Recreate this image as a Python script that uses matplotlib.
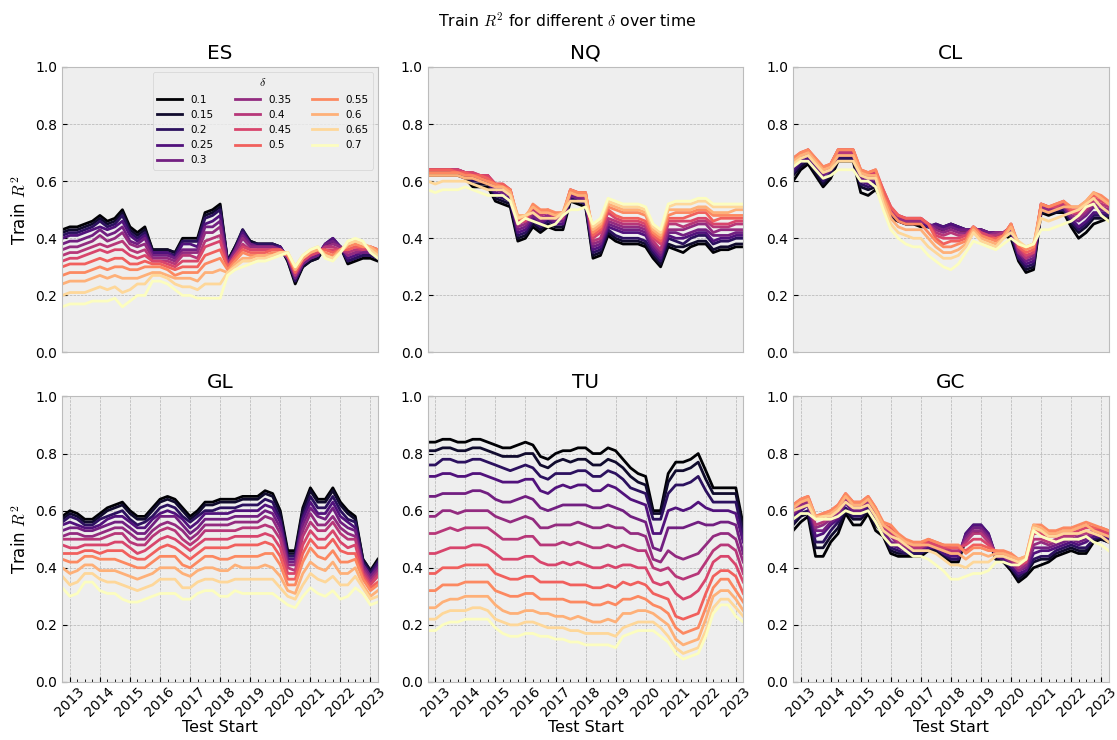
import numpy as np
import pandas as pd
import matplotlib
matplotlib.use("Agg")
import matplotlib.pyplot as plt
import matplotlib.dates as mdates

plt.style.use("bmh")

# ============================================================
# DATA: train R^2 (x100), one row per quarter, one column per delta
# ============================================================

deltas = [0.1, 0.15, 0.2, 0.25, 0.3, 0.35, 0.4, 0.45, 0.5, 0.55, 0.6, 0.65, 0.7]

test_start = pd.date_range("2012-10-01", periods=43, freq="QS")

markets = ["ES", "NQ", "CL", "GL", "TU", "GC"]

es_r2 = [
    [43, 42, 41, 40, 38, 36, 34, 32, 30, 27, 24, 20, 16],
    [44, 43, 42, 41, 39, 37, 35, 33, 31, 28, 25, 21, 17],
    [44, 43, 42, 41, 39, 37, 35, 33, 31, 28, 25, 21, 17],
    [45, 44, 43, 42, 40, 38, 36, 34, 31, 28, 25, 21, 17],
    [46, 45, 44, 43, 41, 39, 37, 35, 32, 29, 26, 22, 18],
    [48, 47, 46, 44, 43, 41, 38, 36, 33, 30, 27, 23, 18],
    [46, 45, 44, 43, 41, 39, 37, 35, 32, 29, 26, 22, 18],
    [47, 46, 45, 44, 42, 40, 38, 36, 33, 30, 27, 23, 19],
    [50, 49, 48, 46, 44, 42, 39, 36, 33, 30, 26, 21, 16],
    [44, 43, 42, 41, 39, 38, 36, 34, 31, 29, 26, 22, 18],
    [42, 41, 40, 39, 38, 37, 35, 33, 31, 29, 26, 24, 20],
    [44, 43, 42, 41, 40, 38, 36, 34, 32, 30, 27, 24, 20],
    [36, 36, 35, 35, 34, 33, 32, 32, 31, 30, 28, 27, 25],
    [36, 36, 35, 35, 34, 33, 32, 32, 31, 30, 28, 27, 25],
    [36, 36, 35, 35, 34, 33, 32, 31, 30, 29, 27, 26, 24],
    [35, 35, 34, 33, 33, 32, 31, 30, 29, 27, 26, 24, 22],
    [40, 39, 39, 38, 36, 35, 34, 32, 30, 28, 26, 23, 20],
    [40, 39, 39, 38, 36, 35, 34, 32, 30, 28, 26, 23, 20],
    [40, 39, 39, 37, 36, 35, 33, 32, 30, 28, 25, 22, 19],
    [49, 48, 47, 45, 44, 42, 39, 37, 34, 31, 28, 24, 19],
    [50, 49, 48, 46, 44, 42, 40, 38, 35, 32, 28, 24, 19],
    [52, 51, 50, 48, 46, 44, 41, 39, 36, 33, 29, 24, 19],
    [32, 32, 32, 31, 31, 31, 30, 30, 30, 29, 28, 28, 27],
    [37, 37, 36, 36, 36, 35, 34, 34, 33, 32, 31, 30, 29],
    [42, 43, 43, 42, 41, 40, 38, 37, 36, 35, 33, 32, 30],
    [39, 39, 38, 38, 38, 37, 36, 36, 35, 34, 33, 32, 31],
    [38, 38, 38, 37, 37, 37, 36, 36, 35, 34, 34, 33, 32],
    [38, 38, 38, 37, 37, 37, 36, 36, 35, 34, 34, 33, 32],
    [38, 38, 38, 37, 37, 37, 36, 36, 36, 35, 34, 34, 33],
    [37, 37, 37, 37, 36, 36, 36, 36, 36, 35, 35, 35, 34],
    [32, 32, 33, 33, 33, 33, 34, 34, 34, 34, 35, 35, 35],
    [24, 25, 25, 26, 26, 27, 27, 28, 28, 29, 29, 30, 30],
    [30, 30, 31, 31, 31, 32, 32, 32, 33, 33, 33, 34, 34],
    [32, 32, 33, 33, 33, 34, 34, 34, 35, 35, 35, 36, 36],
    [33, 33, 34, 34, 34, 35, 35, 35, 36, 36, 36, 37, 37],
    [37, 37, 38, 38, 38, 37, 37, 36, 36, 35, 34, 34, 33],
    [39, 39, 40, 40, 39, 38, 37, 36, 35, 34, 33, 33, 32],
    [37, 37, 37, 37, 37, 37, 36, 36, 36, 36, 36, 35, 35],
    [31, 32, 32, 33, 34, 34, 35, 36, 36, 37, 38, 38, 39],
    [32, 33, 33, 34, 35, 35, 36, 37, 37, 38, 39, 39, 40],
    [33, 34, 34, 35, 35, 36, 36, 36, 37, 37, 38, 38, 39],
    [33, 34, 34, 35, 35, 36, 36, 37, 37, 37, 37, 36, 35],
    [32, 33, 33, 34, 34, 35, 35, 36, 36, 36, 35, 34, 33],
]

nq_r2 = [
    [62, 63, 63, 64, 64, 64, 64, 64, 64, 63, 62, 60, 57],
    [62, 63, 63, 64, 64, 64, 64, 64, 64, 63, 62, 59, 56],
    [62, 63, 63, 64, 64, 64, 64, 64, 64, 63, 62, 60, 57],
    [62, 63, 63, 64, 64, 64, 64, 64, 64, 63, 62, 60, 57],
    [62, 63, 63, 63, 64, 64, 64, 64, 63, 63, 62, 60, 57],
    [61, 62, 62, 63, 63, 63, 63, 63, 63, 62, 61, 60, 58],
    [58, 59, 60, 61, 62, 62, 63, 63, 62, 62, 61, 59, 57],
    [58, 59, 60, 61, 61, 62, 62, 62, 62, 61, 60, 58, 56],
    [58, 59, 60, 60, 61, 62, 62, 62, 61, 60, 59, 57, 55],
    [53, 54, 55, 56, 57, 58, 59, 59, 59, 59, 58, 57, 55],
    [52, 53, 54, 55, 56, 57, 58, 59, 59, 58, 58, 57, 55],
    [51, 52, 53, 54, 55, 56, 57, 57, 57, 57, 56, 55, 53],
    [39, 40, 41, 42, 43, 44, 45, 46, 47, 47, 48, 47, 45],
    [40, 41, 42, 43, 44, 45, 46, 46, 47, 47, 48, 48, 47],
    [44, 45, 46, 47, 48, 49, 50, 51, 51, 52, 51, 49, 46],
    [42, 43, 44, 45, 46, 47, 48, 49, 49, 50, 49, 47, 45],
    [44, 45, 46, 47, 47, 48, 49, 49, 50, 50, 49, 47, 44],
    [43, 44, 45, 45, 46, 47, 47, 48, 48, 49, 48, 47, 45],
    [43, 44, 45, 45, 46, 47, 47, 48, 48, 49, 49, 49, 48],
    [53, 54, 54, 55, 55, 56, 56, 57, 57, 57, 56, 53, 50],
    [52, 53, 53, 54, 54, 55, 55, 56, 56, 56, 55, 53, 50],
    [51, 52, 52, 53, 54, 54, 55, 56, 56, 56, 55, 53, 51],
    [33, 34, 35, 36, 37, 38, 39, 40, 41, 42, 43, 44, 45],
    [34, 35, 36, 37, 38, 39, 40, 42, 43, 44, 45, 46, 47],
    [41, 42, 43, 44, 45, 46, 47, 49, 50, 51, 52, 53, 54],
    [39, 40, 41, 43, 44, 45, 46, 47, 48, 50, 51, 52, 53],
    [38, 39, 40, 42, 43, 44, 45, 46, 47, 49, 50, 51, 52],
    [38, 39, 40, 42, 43, 44, 45, 46, 47, 49, 50, 51, 52],
    [38, 39, 40, 42, 43, 44, 45, 46, 47, 49, 50, 51, 52],
    [37, 38, 39, 41, 42, 43, 44, 45, 46, 48, 49, 50, 51],
    [33, 34, 35, 36, 37, 38, 39, 40, 41, 42, 43, 44, 45],
    [30, 31, 32, 33, 34, 35, 36, 38, 39, 40, 41, 42, 43],
    [37, 38, 40, 41, 42, 43, 45, 46, 47, 48, 50, 51, 52],
    [36, 37, 39, 40, 42, 43, 45, 46, 47, 49, 50, 52, 53],
    [35, 37, 38, 40, 41, 43, 44, 46, 47, 49, 50, 52, 53],
    [37, 38, 40, 41, 42, 44, 45, 46, 48, 49, 50, 52, 53],
    [38, 39, 41, 42, 43, 45, 46, 47, 49, 50, 51, 53, 54],
    [38, 39, 41, 42, 43, 45, 46, 47, 49, 50, 51, 53, 54],
    [35, 36, 38, 39, 41, 42, 44, 45, 46, 48, 49, 51, 52],
    [36, 37, 39, 40, 41, 43, 44, 45, 47, 48, 49, 51, 52],
    [36, 37, 39, 40, 41, 43, 44, 45, 47, 48, 49, 51, 52],
    [37, 38, 40, 41, 42, 43, 45, 46, 47, 48, 50, 51, 52],
    [37, 38, 40, 41, 42, 43, 45, 46, 47, 48, 50, 51, 52],
]

cl_r2 = [
    [60, 62, 63, 64, 65, 66, 67, 67, 68, 68, 67, 66, 65],
    [64, 65, 66, 67, 68, 68, 69, 69, 70, 70, 69, 68, 67],
    [66, 67, 68, 68, 69, 70, 70, 71, 71, 71, 70, 69, 67],
    [62, 63, 64, 65, 66, 66, 67, 67, 68, 68, 67, 66, 64],
    [58, 59, 60, 62, 62, 63, 64, 64, 65, 65, 64, 63, 61],
    [61, 62, 63, 64, 64, 65, 65, 66, 66, 66, 65, 64, 62],
    [67, 68, 68, 69, 69, 70, 70, 71, 71, 71, 69, 67, 64],
    [67, 68, 68, 69, 69, 70, 70, 71, 71, 71, 69, 67, 64],
    [67, 68, 68, 69, 69, 70, 70, 71, 71, 71, 69, 67, 64],
    [56, 58, 59, 60, 61, 62, 63, 63, 64, 64, 63, 62, 60],
    [55, 57, 58, 59, 60, 61, 62, 62, 63, 63, 62, 61, 60],
    [57, 58, 59, 60, 61, 62, 63, 63, 64, 64, 62, 61, 58],
    [53, 53, 54, 55, 55, 56, 56, 57, 57, 55, 54, 52, 50],
    [47, 47, 48, 49, 49, 50, 50, 51, 51, 49, 47, 45, 43],
    [46, 46, 47, 47, 47, 47, 48, 48, 48, 46, 44, 42, 40],
    [45, 45, 46, 46, 46, 46, 47, 47, 47, 45, 43, 41, 38],
    [45, 45, 46, 46, 46, 46, 47, 47, 47, 45, 43, 40, 37],
    [44, 45, 45, 46, 46, 46, 47, 47, 47, 45, 43, 40, 37],
    [44, 44, 44, 44, 45, 45, 45, 45, 45, 42, 40, 37, 34],
    [43, 44, 45, 45, 44, 43, 42, 41, 40, 39, 37, 35, 32],
    [43, 44, 44, 44, 43, 42, 41, 40, 38, 37, 35, 33, 30],
    [44, 45, 45, 45, 44, 43, 42, 40, 39, 37, 35, 33, 29],
    [43, 44, 44, 44, 43, 42, 41, 40, 39, 38, 36, 34, 31],
    [42, 43, 43, 43, 43, 42, 41, 41, 40, 39, 38, 37, 35],
    [42, 43, 43, 43, 43, 43, 44, 44, 44, 44, 43, 42, 39],
    [42, 43, 43, 43, 43, 42, 42, 42, 41, 41, 40, 39, 38],
    [41, 42, 42, 42, 42, 41, 41, 41, 40, 40, 39, 38, 37],
    [41, 42, 42, 42, 42, 42, 41, 40, 40, 39, 38, 37, 36],
    [41, 42, 42, 42, 42, 42, 42, 41, 41, 41, 40, 40, 38],
    [40, 41, 42, 43, 43, 44, 44, 45, 45, 45, 44, 42, 40],
    [32, 33, 33, 34, 35, 35, 36, 37, 37, 38, 38, 39, 38],
    [28, 29, 30, 31, 32, 33, 33, 34, 35, 36, 37, 37, 37],
    [29, 30, 31, 32, 33, 34, 35, 35, 36, 37, 38, 38, 38],
    [49, 49, 50, 50, 51, 51, 52, 52, 52, 52, 50, 47, 43],
    [48, 49, 49, 50, 50, 50, 51, 51, 51, 51, 49, 46, 43],
    [49, 49, 50, 50, 50, 51, 51, 51, 52, 52, 50, 47, 44],
    [49, 50, 50, 51, 51, 52, 52, 53, 53, 53, 51, 48, 45],
    [44, 45, 46, 47, 47, 48, 49, 49, 50, 51, 51, 49, 46],
    [40, 42, 43, 44, 46, 47, 48, 49, 50, 51, 51, 50, 48],
    [42, 44, 45, 46, 48, 49, 50, 51, 52, 53, 53, 52, 51],
    [45, 47, 48, 49, 51, 52, 53, 54, 55, 56, 56, 54, 52],
    [46, 47, 48, 49, 50, 51, 52, 53, 54, 55, 54, 51, 48],
    [47, 48, 48, 49, 50, 50, 51, 52, 52, 53, 52, 49, 46],
]

gl_r2 = [
    [58, 57, 56, 55, 53, 51, 50, 48, 45, 43, 40, 37, 33],
    [60, 59, 58, 56, 54, 52, 50, 47, 45, 42, 38, 34, 30],
    [59, 58, 57, 55, 54, 52, 50, 47, 45, 42, 39, 35, 31],
    [57, 56, 55, 54, 53, 51, 50, 48, 46, 44, 41, 38, 35],
    [57, 56, 55, 54, 53, 51, 50, 48, 46, 44, 41, 38, 35],
    [59, 58, 57, 55, 54, 52, 50, 48, 45, 43, 39, 36, 32],
    [61, 60, 58, 57, 55, 53, 51, 48, 46, 43, 39, 35, 31],
    [62, 61, 59, 58, 56, 54, 52, 49, 46, 43, 39, 35, 31],
    [63, 62, 60, 58, 56, 54, 52, 49, 46, 42, 38, 34, 29],
    [60, 59, 57, 56, 54, 52, 49, 47, 44, 41, 37, 33, 28],
    [58, 57, 55, 54, 52, 50, 48, 45, 43, 40, 36, 32, 28],
    [58, 57, 56, 54, 52, 50, 48, 46, 43, 40, 37, 33, 29],
    [61, 60, 58, 57, 55, 53, 51, 48, 45, 42, 38, 34, 30],
    [64, 63, 61, 59, 58, 55, 53, 50, 47, 44, 40, 36, 31],
    [65, 64, 62, 60, 58, 56, 54, 51, 48, 44, 40, 36, 31],
    [64, 63, 61, 59, 58, 55, 53, 50, 47, 44, 40, 36, 31],
    [61, 60, 58, 57, 55, 53, 50, 48, 45, 41, 38, 33, 29],
    [58, 57, 56, 54, 52, 50, 48, 46, 43, 40, 37, 33, 29],
    [60, 59, 58, 56, 54, 52, 50, 48, 45, 42, 39, 35, 31],
    [63, 62, 60, 59, 57, 55, 53, 50, 47, 44, 40, 36, 32],
    [63, 62, 60, 59, 57, 55, 53, 50, 47, 44, 40, 36, 32],
    [64, 63, 61, 59, 57, 55, 53, 50, 47, 43, 39, 35, 30],
    [64, 63, 61, 59, 57, 55, 53, 50, 47, 43, 39, 35, 30],
    [64, 63, 61, 60, 58, 56, 53, 51, 48, 44, 41, 36, 32],
    [65, 64, 62, 60, 58, 56, 54, 51, 48, 44, 40, 36, 31],
    [65, 64, 62, 60, 58, 56, 54, 51, 48, 44, 40, 36, 31],
    [65, 64, 62, 60, 58, 56, 54, 51, 48, 44, 40, 36, 31],
    [67, 66, 64, 62, 60, 58, 55, 52, 49, 45, 41, 36, 31],
    [66, 65, 63, 61, 59, 57, 54, 51, 48, 45, 40, 36, 31],
    [60, 59, 57, 56, 54, 52, 50, 47, 44, 41, 37, 33, 29],
    [46, 45, 44, 43, 42, 41, 40, 38, 36, 34, 32, 30, 27],
    [46, 45, 44, 43, 42, 41, 39, 38, 36, 34, 31, 29, 26],
    [61, 60, 58, 57, 55, 53, 51, 48, 45, 42, 38, 34, 30],
    [68, 67, 65, 63, 61, 59, 56, 53, 50, 47, 42, 38, 33],
    [64, 63, 61, 59, 58, 55, 53, 50, 47, 44, 40, 36, 31],
    [64, 63, 61, 59, 57, 55, 53, 50, 47, 43, 39, 35, 30],
    [68, 67, 65, 63, 61, 58, 56, 53, 50, 46, 42, 37, 32],
    [63, 62, 60, 58, 56, 54, 52, 49, 46, 42, 38, 34, 29],
    [60, 59, 57, 56, 54, 52, 50, 47, 45, 42, 38, 34, 30],
    [58, 57, 56, 54, 53, 51, 50, 48, 45, 43, 40, 37, 33],
    [43, 43, 42, 41, 41, 40, 39, 38, 37, 36, 34, 33, 31],
    [39, 39, 38, 37, 37, 36, 35, 34, 33, 32, 30, 29, 27],
    [43, 42, 42, 41, 40, 39, 38, 37, 35, 34, 32, 30, 28],
]

tu_r2 = [
    [84, 81, 76, 72, 65, 58, 52, 45, 38, 32, 26, 22, 18],
    [84, 81, 76, 72, 65, 58, 52, 45, 38, 32, 26, 22, 18],
    [85, 82, 78, 73, 66, 60, 53, 46, 40, 34, 28, 24, 20],
    [85, 82, 78, 73, 66, 60, 54, 47, 40, 34, 29, 25, 21],
    [84, 81, 77, 72, 66, 59, 53, 47, 40, 34, 29, 25, 21],
    [84, 81, 77, 72, 66, 60, 54, 47, 41, 35, 30, 25, 22],
    [85, 82, 78, 73, 67, 60, 54, 48, 41, 35, 30, 26, 22],
    [85, 82, 78, 73, 67, 60, 54, 48, 41, 35, 30, 26, 22],
    [84, 81, 77, 72, 66, 60, 54, 47, 41, 35, 30, 25, 22],
    [83, 80, 76, 71, 64, 58, 52, 45, 38, 32, 27, 22, 19],
    [82, 79, 75, 70, 63, 57, 50, 43, 37, 31, 25, 21, 17],
    [82, 79, 74, 70, 63, 56, 50, 43, 36, 30, 24, 20, 16],
    [83, 79, 75, 70, 64, 57, 50, 43, 36, 30, 24, 20, 16],
    [84, 80, 76, 71, 65, 58, 51, 44, 37, 31, 25, 21, 17],
    [83, 80, 75, 71, 64, 57, 51, 44, 37, 31, 25, 21, 17],
    [79, 76, 72, 67, 61, 54, 48, 42, 35, 29, 24, 20, 16],
    [78, 75, 71, 66, 60, 54, 48, 41, 35, 29, 24, 19, 16],
    [80, 77, 73, 68, 61, 55, 48, 41, 35, 29, 23, 19, 15],
    [81, 78, 73, 69, 62, 55, 49, 42, 35, 29, 23, 19, 15],
    [81, 77, 73, 68, 62, 55, 48, 41, 34, 28, 22, 18, 14],
    [82, 78, 74, 69, 62, 56, 49, 42, 34, 28, 23, 18, 14],
    [82, 78, 74, 69, 62, 55, 48, 41, 34, 28, 22, 17, 13],
    [80, 76, 72, 67, 61, 54, 47, 40, 33, 27, 21, 17, 13],
    [80, 76, 72, 67, 61, 54, 47, 40, 33, 27, 21, 17, 13],
    [82, 78, 74, 69, 62, 55, 48, 41, 34, 28, 22, 17, 13],
    [81, 77, 73, 68, 61, 54, 47, 40, 33, 27, 21, 16, 12],
    [78, 75, 71, 66, 60, 54, 48, 41, 35, 29, 24, 19, 16],
    [75, 72, 68, 64, 58, 52, 47, 41, 34, 29, 24, 20, 17],
    [73, 70, 67, 63, 57, 52, 46, 40, 35, 30, 25, 21, 18],
    [72, 69, 66, 62, 56, 51, 46, 40, 34, 29, 25, 21, 18],
    [60, 59, 57, 52, 47, 43, 40, 35, 31, 27, 24, 21, 18],
    [60, 59, 57, 52, 46, 42, 39, 34, 30, 26, 22, 19, 16],
    [73, 70, 66, 60, 54, 46, 40, 35, 29, 24, 20, 16, 14],
    [77, 74, 69, 61, 54, 44, 37, 31, 23, 19, 15, 12, 10],
    [77, 74, 69, 60, 54, 43, 36, 29, 22, 17, 13, 10, 8],
    [78, 75, 70, 61, 55, 44, 37, 30, 23, 18, 14, 11, 9],
    [80, 77, 72, 63, 56, 45, 38, 32, 24, 19, 15, 12, 10],
    [74, 71, 67, 61, 55, 48, 42, 36, 31, 26, 22, 18, 16],
    [68, 66, 63, 60, 55, 51, 46, 42, 37, 33, 30, 26, 24],
    [68, 66, 63, 60, 56, 52, 48, 44, 39, 36, 32, 29, 27],
    [68, 66, 63, 60, 56, 52, 48, 44, 39, 36, 32, 29, 27],
    [68, 66, 63, 59, 55, 50, 46, 41, 37, 32, 29, 26, 23],
    [55, 53, 51, 49, 45, 42, 38, 35, 31, 28, 25, 23, 21],
]

gc_r2 = [
    [53, 55, 56, 58, 59, 59, 60, 61, 62, 62, 61, 60, 57],
    [56, 58, 59, 60, 61, 62, 63, 63, 64, 64, 63, 61, 59],
    [58, 59, 60, 62, 62, 63, 64, 64, 65, 65, 64, 62, 59],
    [44, 47, 49, 51, 53, 54, 55, 57, 58, 58, 58, 57, 57],
    [44, 47, 49, 52, 53, 55, 56, 58, 59, 59, 58, 58, 57],
    [49, 51, 53, 55, 56, 57, 58, 59, 60, 60, 59, 58, 57],
    [52, 54, 56, 57, 58, 59, 60, 61, 62, 62, 61, 60, 58],
    [59, 60, 61, 63, 63, 64, 65, 65, 66, 66, 65, 63, 60],
    [55, 57, 58, 59, 60, 61, 62, 62, 63, 63, 62, 61, 59],
    [55, 57, 58, 59, 60, 61, 62, 62, 63, 63, 62, 61, 59],
    [59, 60, 61, 62, 63, 63, 64, 64, 65, 65, 64, 62, 60],
    [53, 55, 56, 57, 58, 59, 60, 60, 61, 61, 60, 58, 56],
    [51, 52, 52, 53, 53, 54, 54, 55, 55, 56, 55, 53, 51],
    [45, 46, 47, 48, 49, 51, 52, 53, 54, 55, 53, 51, 48],
    [44, 45, 46, 47, 48, 48, 49, 50, 51, 52, 51, 50, 48],
    [44, 45, 45, 46, 47, 47, 48, 49, 49, 50, 49, 48, 46],
    [44, 45, 45, 46, 46, 47, 47, 48, 48, 49, 48, 46, 44],
    [44, 45, 45, 46, 46, 47, 47, 48, 48, 49, 48, 46, 44],
    [46, 46, 47, 47, 48, 48, 49, 49, 50, 50, 48, 46, 43],
    [46, 46, 47, 47, 47, 48, 48, 48, 49, 49, 47, 45, 41],
    [44, 44, 45, 45, 46, 46, 47, 47, 48, 48, 46, 43, 39],
    [42, 43, 43, 44, 45, 45, 46, 47, 47, 48, 45, 41, 36],
    [42, 43, 43, 44, 45, 45, 46, 47, 47, 48, 45, 41, 36],
    [50, 51, 52, 52, 51, 50, 49, 48, 46, 45, 43, 40, 37],
    [52, 54, 55, 55, 54, 53, 52, 50, 48, 47, 45, 42, 38],
    [53, 54, 55, 55, 54, 53, 52, 50, 48, 47, 45, 42, 38],
    [50, 51, 52, 52, 51, 50, 49, 48, 47, 46, 44, 42, 39],
    [43, 43, 44, 44, 44, 45, 45, 45, 46, 46, 45, 44, 42],
    [42, 42, 43, 43, 44, 44, 45, 45, 45, 46, 45, 44, 42],
    [39, 40, 40, 41, 42, 42, 43, 44, 44, 45, 44, 43, 41],
    [35, 36, 37, 38, 39, 39, 40, 41, 42, 43, 43, 42, 41],
    [37, 38, 39, 39, 40, 41, 42, 42, 43, 44, 44, 43, 43],
    [40, 42, 43, 45, 47, 48, 50, 52, 53, 55, 55, 54, 53],
    [41, 43, 44, 46, 47, 49, 50, 52, 53, 55, 54, 53, 51],
    [42, 43, 44, 46, 47, 48, 49, 51, 52, 53, 52, 51, 50],
    [44, 45, 46, 47, 48, 49, 50, 51, 52, 53, 52, 51, 49],
    [45, 46, 47, 48, 49, 50, 51, 52, 53, 54, 53, 52, 50],
    [46, 47, 48, 49, 50, 50, 51, 52, 53, 54, 53, 52, 50],
    [45, 46, 47, 48, 49, 51, 52, 53, 54, 55, 54, 52, 50],
    [45, 46, 47, 49, 50, 51, 52, 54, 55, 56, 55, 53, 51],
    [49, 50, 50, 51, 52, 52, 53, 54, 54, 55, 53, 52, 49],
    [50, 50, 51, 51, 52, 52, 53, 53, 54, 54, 52, 51, 48],
    [49, 49, 50, 50, 51, 51, 52, 52, 53, 53, 51, 49, 46],
]

panels = [es_r2, nq_r2, cl_r2, gl_r2, tu_r2, gc_r2]

# ============================================================
# FIGURE
# ============================================================

fig, axes = plt.subplots(2, 3, figsize=(11.17, 7.4), dpi=100)

fig.subplots_adjust(
    left=0.0558,
    right=0.9925,
    bottom=0.0784,
    top=0.9095,
    wspace=0.158,
    hspace=0.154
)

colors = plt.cm.magma(np.linspace(0, 1, len(deltas)))

for ax, name, table in zip(axes.flat, markets, panels):

    values = np.array(table) / 100

    for k, delta in enumerate(deltas):
        ax.plot(
            test_start,
            values[:, k],
            color=colors[k],
            label=str(delta)
        )

    ax.set_title(name)
    ax.set_ylim(0, 1)
    ax.set_xlim(test_start[0], test_start[-1])

    ax.xaxis.set_major_locator(mdates.YearLocator())
    ax.xaxis.set_major_formatter(mdates.DateFormatter("%Y"))
    ax.xaxis.set_minor_locator(mdates.MonthLocator(bymonth=[4, 7, 10]))
    ax.tick_params(axis="x", labelrotation=45, pad=2)

# top row shares the time axis of the bottom row
for ax in axes[0]:
    ax.xaxis.set_visible(False)

for ax in axes[1]:
    ax.set_xlabel("Test Start", fontsize=11.5, labelpad=0)

for ax in axes[:, 0]:
    ax.set_ylabel("Train $R^2$")

axes[0, 0].legend(
    title=r"$\delta$",
    ncol=3,
    fontsize=7.5,
    title_fontsize=8.5,
    handlelength=2.4,
    loc="upper right"
)

fig.suptitle(
    r"Train $R^2$ for different $\delta$ over time",
    fontsize=11.3,
    x=0.508,
    y=0.985
)

fig.savefig("out.png", dpi=100)
